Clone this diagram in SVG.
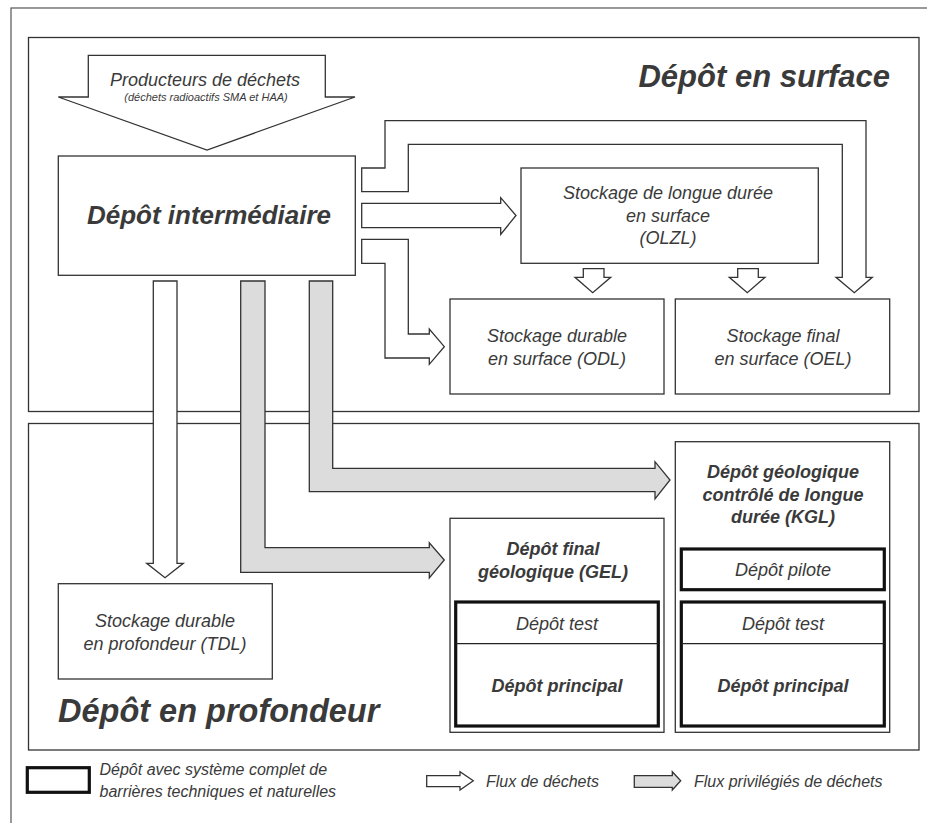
<svg xmlns="http://www.w3.org/2000/svg" width="927" height="823" viewBox="0 0 927 823">
<style>
.frame{fill:none;stroke:#555;stroke-width:1.2}
.panel{fill:#fff;stroke:#333;stroke-width:1.3}
.box{fill:#fff;stroke:#333;stroke-width:1.3}
.thick{fill:#fff;stroke:#111;stroke-width:3.2}
.div{stroke:#222;stroke-width:1.3}
.wa{fill:#fff;stroke:#333;stroke-width:1.3;stroke-linejoin:miter}
.ga{fill:#dcdcdc;stroke:#333;stroke-width:1.3;stroke-linejoin:miter}
text{font-family:"Liberation Sans",Arial,sans-serif;font-style:italic;fill:#3a3a3a}
.c{text-anchor:middle}
.b{font-weight:bold}
</style>
<rect class="frame" x="11" y="8" width="940" height="840"/>
<g id="panel-surface">
<rect class="panel" x="28.5" y="37.5" width="890.5" height="374"/>
<text class="b" x="890" y="87" font-size="31" text-anchor="end">Dépôt en surface</text>
</g>
<g id="panel-profondeur">
<rect class="panel" x="28.5" y="423.5" width="890.5" height="326.5"/>
<text class="b" x="58" y="722" font-size="32.5">Dépôt en profondeur</text>
</g>
<g id="producteurs">
<polygon class="wa" points="88.3,55.3 325.3,55.3 325.3,97 355,97 207,150 58.3,97 88.3,97"/>
<text class="c" x="205" y="86" font-size="18">Producteurs de déchets</text>
<text class="c" x="206" y="101" font-size="11">(déchets radioactifs SMA et HAA)</text>
</g>
<g id="depot-intermediaire">
<rect class="box" x="58.3" y="156" width="297" height="119.3"/>
<text class="c b" x="209" y="224" font-size="26">Dépôt intermédiaire</text>
</g>
<g id="olzl">
<rect class="box" x="521" y="168" width="297.3" height="95.3"/>
<text class="c" x="668" y="199" font-size="18">Stockage de longue durée</text>
<text class="c" x="668" y="221.5" font-size="18">en surface</text>
<text class="c" x="668" y="244" font-size="18">(OLZL)</text>
</g>
<g id="odl">
<rect class="box" x="450" y="299" width="214" height="95"/>
<text class="c" x="557" y="341.5" font-size="18">Stockage durable</text>
<text class="c" x="557" y="365" font-size="18">en surface (ODL)</text>
</g>
<g id="oel">
<rect class="box" x="675.3" y="299" width="214.4" height="95"/>
<text class="c" x="783" y="341.5" font-size="18">Stockage final</text>
<text class="c" x="783" y="365" font-size="18">en surface (OEL)</text>
</g>
<g id="tdl">
<rect class="box" x="58.3" y="583.7" width="214" height="95.3"/>
<text class="c" x="165" y="626.5" font-size="18">Stockage durable</text>
<text class="c" x="165" y="650" font-size="18">en profondeur (TDL)</text>
</g>
<g id="gel">
<rect class="box" x="450" y="518.3" width="214" height="214"/>
<text class="c b" x="553" y="555" font-size="18">Dépôt final</text>
<text class="c b" x="553" y="578" font-size="18">géologique (GEL)</text>
<rect class="thick" x="455.7" y="602" width="202.6" height="124"/>
<line class="div" x1="455.7" y1="643.7" x2="658.3" y2="643.7"/>
<text class="c" x="557" y="630" font-size="18">Dépôt test</text>
<text class="c b" x="557" y="691.5" font-size="18">Dépôt principal</text>
</g>
<g id="kgl">
<rect class="box" x="675.3" y="441.7" width="214.4" height="290.6"/>
<text class="c b" x="783" y="478" font-size="18">Dépôt géologique</text>
<text class="c b" x="783" y="500.5" font-size="18">contrôlé de longue</text>
<text class="c b" x="783" y="523" font-size="18">durée (KGL)</text>
<rect class="thick" x="681.3" y="549" width="203" height="40.7"/>
<text class="c" x="783" y="576" font-size="18">Dépôt pilote</text>
<rect class="thick" x="681.3" y="602" width="203" height="124"/>
<line class="div" x1="681.3" y1="643.7" x2="884.3" y2="643.7"/>
<text class="c" x="783" y="630" font-size="18">Dépôt test</text>
<text class="c b" x="783" y="691.5" font-size="18">Dépôt principal</text>
</g>
<g id="connectors">
<polygon class="wa" points="361.7,168 385,168 385,120.7 866,120.7 866,277.3 872.3,277.3 854.3,292.7 836,277.3 842.3,277.3 842.3,144.3 408.3,144.3 408.3,191.7 361.7,191.7"/>
<polygon class="wa" points="361.7,203.3 500.7,203.3 500.7,197.7 516,215.5 500.7,234.3 500.7,227.7 361.7,227.7"/>
<polygon class="wa" points="361.7,239.3 408.3,239.3 408.3,334 429.3,334 429.3,329 444.3,346.7 429.3,364.3 429.3,358 385,358 385,263.3 361.7,263.3"/>
<polygon class="wa" points="583.3,268.7 604,268.7 604,277.3 610.7,277.3 592.7,292.7 575,277.3 583.3,277.3"/>
<polygon class="wa" points="737.7,268.7 758.3,268.7 758.3,277.3 765,277.3 747.3,292.7 729.3,277.3 737.7,277.3"/>
<polygon class="wa" points="153.3,281 177,281 177,563.3 183.3,563.3 165,577.7 146.7,563.3 153.3,563.3"/>
<polygon class="ga" points="240.7,281 265,281 265,547.7 429.3,547.7 429.3,542.7 444.3,560 429.3,578 429.3,572.3 240.7,572.3"/>
<polygon class="ga" points="309.3,281 332.7,281 332.7,468.3 655,468.3 655,461.7 670,480 655,499 655,491.7 309.3,491.7"/>
</g>
<g id="legend">
<rect class="thick" x="27.3" y="767.7" width="62" height="24.6"/>
<text x="99.5" y="775" font-size="16">Dépôt avec système complet de</text>
<text x="99.5" y="797" font-size="16">barrières techniques et naturelles</text>
<polygon class="wa" points="426.7,775.7 460,775.7 460,771.7 473.3,780.7 460,790 460,786.7 426.7,786.7"/>
<text x="486" y="787.3" font-size="16">Flux de déchets</text>
<polygon class="ga" points="634.3,775.7 672.3,775.7 672.3,771.7 680.7,780.7 672.3,790 672.3,787.3 634.3,787.3"/>
<text x="694" y="787.3" font-size="16">Flux privilégiés de déchets</text>
</g>
</svg>
